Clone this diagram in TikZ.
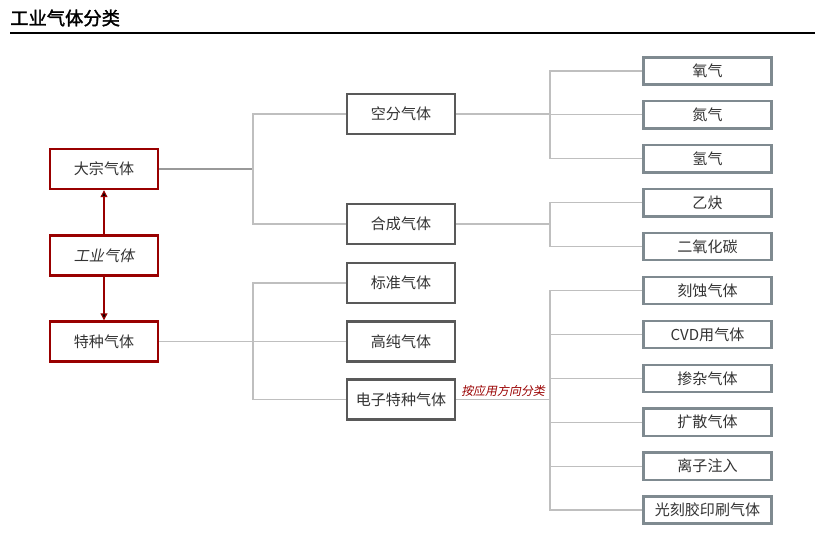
\documentclass[tikz,border=0pt]{standalone}
\usepackage{fontspec}
\newfontfamily\cjk{Noto Sans CJK SC}
\newfontfamily\cjkit{Noto Sans CJK SC}[FakeSlant=0.2]
\newfontfamily\cjkbf{Noto Sans CJK SC}[FakeBold=1.6]
\usetikzlibrary{arrows.meta}
\definecolor{rootred}{HTML}{990000}
\definecolor{midgray}{HTML}{595959}
\definecolor{leafgray}{HTML}{7F8A90}
\definecolor{linkgray}{HTML}{BFBFBF}
\definecolor{textgray}{HTML}{333333}

\begin{document}
\begin{tikzpicture}[x=0.025cm, y=-0.025cm, font=\cjk\fontsize{10.7}{12}\selectfont, text=textgray]
    \tikzstyle{root_style}=[rectangle, draw=rootred, line width=1.7pt, minimum width=2.7cm, minimum height=1cm, inner sep=0pt]
    \tikzstyle{mid_style}=[rectangle, draw=midgray, line width=1.7pt, minimum width=2.7cm, minimum height=1cm, inner sep=0pt]
    \tikzstyle{leaf_style}=[rectangle, draw=leafgray, line width=1.7pt, minimum width=3.2cm, minimum height=0.68cm, inner sep=0pt]
    \tikzstyle{link_style}=[draw=linkgray, line width=0.8pt]
    \useasboundingbox (0,0) rectangle (822,539);

    % title
    \draw node at (10, 18) [anchor=west, inner sep=0pt, text=black, font=\cjkbf\fontsize{13}{14}\selectfont] (title) {工业气体分类};
    \draw[line width=1.4pt] (10, 33) -- (815, 33);

    % branch points
    \coordinate (fork_bulk) at (253, 169);
    \coordinate (fork_special) at (253, 341.5);
    \coordinate (fork_air) at (550, 114);
    \coordinate (fork_syn) at (550, 224);
    \coordinate (fork_elec) at (550, 399.5);

    % root
    \draw node at (104, 169) [root_style] (root_bulk) {大宗气体};
    \draw node at (104, 255.5) [root_style, font=\cjkit\fontsize{10.7}{12}\selectfont] (root_gas) {工业气体};
    \draw node at (104, 341.5) [root_style] (root_special) {特种气体};

    % middle
    \draw node at (401, 114) [mid_style] (mid_air) {空分气体};
    \draw node at (401, 224) [mid_style] (mid_syn) {合成气体};
    \draw node at (401, 283) [mid_style] (mid_std) {标准气体};
    \draw node at (401, 341.5) [mid_style] (mid_pure) {高纯气体};
    \draw node at (401, 399.5) [mid_style] (mid_elec) {电子特种气体};

    % leaves
    \foreach \txt [count=\i from 0] in {氧气, 氮气, 氢气, 乙炔, 二氧化碳, 刻蚀气体, CVD用气体, 掺杂气体, 扩散气体, 离子注入, 光刻胶印刷气体}
      \draw node at (707.5, 71 + 43.9*\i) [leaf_style] (leaf_\i) {\txt};

    % connect: root -> root
    \path[draw=rootred, line width=0.8pt, -{Triangle[length=5pt, width=5pt]}] (root_gas) edge (root_bulk);
    \path[draw=rootred, line width=0.8pt, -{Triangle[length=5pt, width=5pt]}] (root_gas) edge (root_special);

    % connect: root -> middle
    \draw[link_style, draw=gray!80] (root_bulk) -- (fork_bulk);
    \draw[link_style] (fork_bulk) |- (mid_air.west);
    \draw[link_style] (fork_bulk) |- (mid_syn.west);
    \draw[link_style] (root_special) -- (mid_pure);
    \draw[link_style] (fork_special) |- (mid_std.west);
    \draw[link_style] (fork_special) |- (mid_elec.west);

    % connect: middle -> leaves
    \draw[link_style] (mid_air) -- (fork_air);
    \foreach \i in {0,...,2}
      \draw[link_style] (fork_air) |- (leaf_\i.west);
    \draw[link_style] (mid_syn) -- (fork_syn);
    \foreach \i in {3,4}
      \draw[link_style] (fork_syn) |- (leaf_\i.west);
    \draw[link_style] (mid_elec) -- (fork_elec) node[midway, above, inner sep=2pt, text=rootred, font=\cjkit\fontsize{8.5}{10}\selectfont] (elec_label) {按应用方向分类};
    \foreach \i in {5,...,10}
      \draw[link_style] (fork_elec) |- (leaf_\i.west);
\end{tikzpicture}
\end{document}
